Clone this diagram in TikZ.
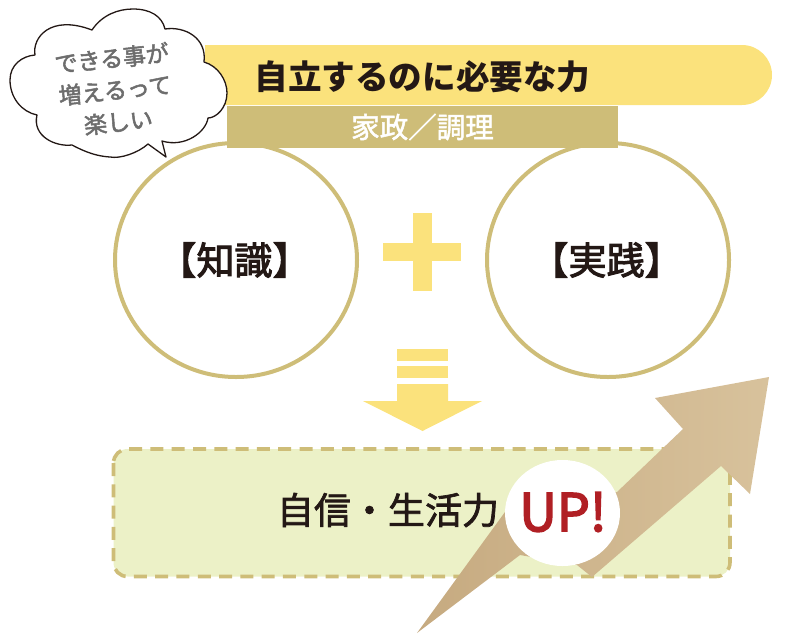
\documentclass[tikz,border=0pt]{standalone}
\usepackage{fontspec}
\setmainfont{Noto Sans CJK JP}
\usepackage{tikz}
\usetikzlibrary{calc,positioning,shapes.geometric}
\definecolor{barYellow}{HTML}{FBE27C}
\definecolor{bandKhaki}{HTML}{CEBD78}
\definecolor{boxGreen}{HTML}{ECF1C7}
\definecolor{kraftLight}{HTML}{D8C29C}
\definecolor{kraftBrown}{HTML}{C6AA80}
\definecolor{inkDark}{HTML}{231815}
\definecolor{upRed}{HTML}{B01F24}
\definecolor{bubbleGray}{HTML}{6D6D6D}
\newcommand{\thicktext}[2]{\special{pdf:code 2 Tr #1 w}#2\special{pdf:code 0 Tr}}
\tikzset{
	ringnode/.style={ellipse,draw=bandKhaki,line width=4pt,fill=white,minimum width=242pt,minimum height=234pt,inner sep=0pt,font=\fontsize{38}{38}\selectfont,text=inkDark},
	stripenode/.style={fill=barYellow,inner sep=0pt,minimum width=51pt},
}
\begin{document}
\begin{tikzpicture}[x=1pt,y=-1pt]
	\useasboundingbox (0,0) rectangle (800,640);
	\fill[barYellow] (205,45)--(742,45) arc[start angle=-90,end angle=90,radius=30]--(205,105)--cycle;
	\node[ringnode] (know) at (236,260) {\hspace{-3pt}\thicktext{1}{【知識】}};
	\node[ringnode] (practice) at (608,260) {\hspace{-3pt}\thicktext{1}{【実践】}};
	\node[fill=bandKhaki,minimum width=391pt,minimum height=42pt,inner sep=0pt,text=white,font=\fontsize{28.5}{28.5}\selectfont] (band) at (422.5,127) {\thicktext{0.5}{家政／調理}};
	\node[inner sep=0pt,text=inkDark,font=\fontsize{33.6}{33.6}\selectfont\bfseries] (title) at (422.5,77) {自立するのに必要な力};
	\fill[barYellow] (383,243) rectangle (461,261);
	\fill[barYellow] (413,213) rectangle (432,291);
	\node[stripenode,minimum height=12pt] (stripeA) at (422.5,355) {};
	\node[stripenode,minimum height=12pt] (stripeB) at (422.5,372) {};
	\fill[barYellow] (397,384)--(448,384)--(448,401)--(482,401)--(422.5,431)--(363,401)--(397,401)--cycle;
	\draw[bandKhaki,fill=boxGreen,line width=3.6pt,dash pattern=on 13pt off 8.3pt,rounded corners=14pt] (113.5,449) rectangle (730,576.5);
	\node[inner sep=0pt,text=inkDark,font=\fontsize{37}{37}\selectfont] (confidence) at (388,510) {\thicktext{0.7}{自信・生活力}};
	\shade[left color=kraftBrown,right color=kraftLight] (769,377)--(655,398)--(683,429)--(617,492)--(560,510)--(505,512)--(417,633)--(520,555)--(577,565)--(592,577)--(721,466)--(750,494)--cycle;
	\node[ellipse,fill=white,minimum width=115pt,minimum height=106pt,inner sep=0pt] (upspot) at (562.5,513) {};
	\node[inner sep=0pt,text=upRed,font=\fontsize{52}{52}\selectfont] (up) at (563,512) {\thicktext{1.6}{UP!}};
	\draw[inkDark,line width=1.3pt,fill=white,line join=round] (92,30)
		.. controls (102,15) and (118,9) .. (133,9)
		.. controls (150,9) and (162,16) .. (165,29)
		.. controls (185,26) and (207,38) .. (204,62)
		.. controls (218,66) and (227,80) .. (227,93)
		.. controls (227,108) and (216,118) .. (208,118)
		.. controls (206,132) and (185,148) .. (162,141)
		-- (166,157)--(148,144)
		.. controls (138,153) and (120,159) .. (110,157)
		.. controls (92,156) and (78,148) .. (72,145)
		.. controls (55,147) and (32,136) .. (37,115)
		.. controls (22,112) and (10,98) .. (10,80)
		.. controls (10,65) and (22,56) .. (35,55)
		.. controls (32,38) and (50,14) .. (92,30)--cycle;
	\node[inner sep=0pt,rotate=6,align=center,text=bubbleGray,font=\fontsize{23}{32}\selectfont] (bubble) at (115,90) {\thicktext{0.5}{できる事が}\\\thicktext{0.5}{増えるって}\\\thicktext{0.5}{楽しい}};
\end{tikzpicture}
\end{document}
